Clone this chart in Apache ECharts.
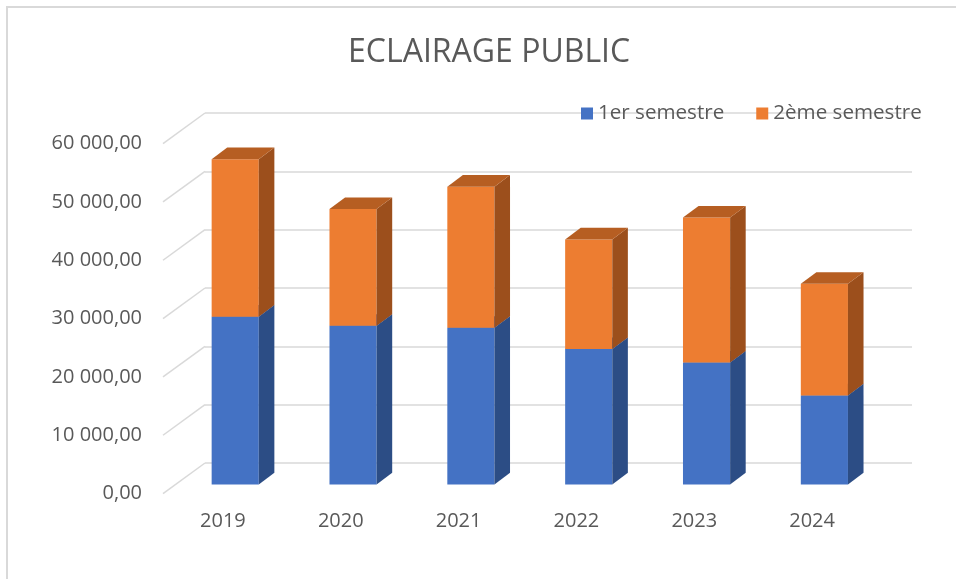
<!DOCTYPE html>
<html>
<head>
<meta charset="utf-8">
<script src="https://cdn.jsdelivr.net/npm/echarts@6/dist/echarts.min.js"></script>
<style>
html,body{margin:0;padding:0;background:#fff;}
#main{width:956px;height:579px;}
</style>
</head>
<body>
<div id="main"></div>
<script>
// ---- data ----
const categories = ['2019', '2020', '2021', '2022', '2023', '2024'];
const semestre1 = [28750, 27200, 26850, 23200, 20900, 15250];
const semestre2 = [27000, 20000, 24200, 18800, 24850, 19150];
const yTicks = [0, 10000, 20000, 30000, 40000, 50000, 60000];
const seriesNames = ['1er semestre', '2ème semestre'];

// ---- style / geometry ----
const FONT = 'Open Sans';
const TXT = '#595959';
const GRIDC = '#d9d9d9';
const DX = 41, DY = -30.6;      // depth vector (front -> back)
const F0 = 0.3, F1 = 0.68;      // bar depth position (fractions)
const BW = 0.4;                 // bar width as fraction of band

function fmt(v) {
  const s = Math.round(v).toString().replace(/\B(?=(\d{3})+(?!\d))/g, ' ');
  return s + ',00';
}

function barRender(front, side, topc, drawTop) {
  return function (params, api) {
    const i = api.value(0), v0 = api.value(1), v1 = api.value(2);
    const pa = api.coord([i, v0]), pb = api.coord([i, v1]);
    const band = api.size([1, 0])[0];
    const w = band * BW;
    const x = pa[0] - w / 2 + F0 * DX;
    const yb = pa[1] + F0 * DY, yt = pb[1] + F0 * DY;
    const ddx = (F1 - F0) * DX, ddy = (F1 - F0) * DY;
    const children = [
      { type: 'rect', shape: { x: x, y: yt, width: w, height: yb - yt }, style: { fill: front } },
      { type: 'polygon', shape: { points: [[x + w, yt], [x + w + ddx, yt + ddy], [x + w + ddx, yb + ddy], [x + w, yb]] }, style: { fill: side } }
    ];
    if (drawTop) {
      children.push({ type: 'polygon', shape: { points: [[x, yt], [x + w, yt], [x + w + ddx, yt + ddy], [x + ddx, yt + ddy]] }, style: { fill: topc } });
    }
    return { type: 'group', children: children };
  };
}

const d1 = categories.map((c, i) => [i, 0, semestre1[i]]);
const d2 = categories.map((c, i) => [i, semestre1[i], semestre1[i] + semestre2[i]]);
const dTicks = yTicks.map(v => [0, v]);

const chart = echarts.init(document.getElementById('main'), null, { renderer: 'canvas' });
chart.setOption({
  backgroundColor: '#fff',
  animation: false,
  title: {
    text: 'ECLAIRAGE PUBLIC',
    left: 343,
    top: 32,
    textStyle: { fontFamily: FONT, fontSize: 32, fontWeight: 'normal', color: TXT }
  },
  legend: {
    data: seriesNames,
    left: 576,
    top: 98,
    icon: 'rect',
    itemWidth: 12,
    itemHeight: 12,
    itemGap: 32,
    textStyle: { fontFamily: FONT, fontSize: 20.6, color: TXT }
  },
  graphic: [{
    type: 'rect', shape: { x: 7, y: 7, width: 1000, height: 700 },
    style: { fill: 'none', stroke: GRIDC, lineWidth: 2 }, silent: true, z: -1
  }],
  grid: [
    { left: 205, right: 44, top: 113, bottom: 116 },       // back plane
    { left: 164, right: 85, top: 143.6, bottom: 85.4 }      // front plane
  ],
  xAxis: [
    { type: 'category', gridIndex: 0, data: categories, show: false },
    {
      type: 'category', gridIndex: 1, data: categories,
      axisLine: { show: false }, axisTick: { show: false },
      axisLabel: { fontFamily: FONT, fontSize: 20, color: TXT, margin: 18 }
    }
  ],
  yAxis: [
    {
      type: 'value', gridIndex: 0, min: 0, max: 60000, interval: 10000,
      axisLabel: { show: false }, axisLine: { show: false }, axisTick: { show: false },
      splitLine: { show: true, lineStyle: { color: GRIDC, width: 1.5 } }
    },
    {
      type: 'value', gridIndex: 1, min: 0, max: 60000, interval: 10000,
      axisLine: { show: false }, axisTick: { show: false }, splitLine: { show: false },
      axisLabel: { fontFamily: FONT, fontSize: 20, color: TXT, margin: 22, formatter: fmt }
    }
  ],
  series: [
    {
      type: 'custom', name: 'ticks', xAxisIndex: 1, yAxisIndex: 1,
      data: dTicks, silent: true, z: 1,
      renderItem: function (params, api) {
        const p = api.coord([0, api.value(1)]);
        const x0 = params.coordSys.x;
        return {
          type: 'line',
          shape: { x1: x0 - 1, y1: p[1], x2: x0 + DX, y2: p[1] + DY },
          style: { stroke: GRIDC, lineWidth: 1.5 }
        };
      }
    },
    {
      type: 'custom', name: seriesNames[0], xAxisIndex: 1, yAxisIndex: 1,
      data: d1, encode: { x: 0, y: 2 }, z: 2,
      itemStyle: { color: '#4472C4' },
      renderItem: barRender('#4472C4', '#2C4D85', '#3A63AC', true)
    },
    {
      type: 'custom', name: seriesNames[1], xAxisIndex: 1, yAxisIndex: 1,
      data: d2, encode: { x: 0, y: 2 }, z: 3,
      itemStyle: { color: '#ED7D31' },
      renderItem: barRender('#ED7D31', '#9C4F1C', '#B65E22', true)
    }
  ]
});
</script>
</body>
</html>
